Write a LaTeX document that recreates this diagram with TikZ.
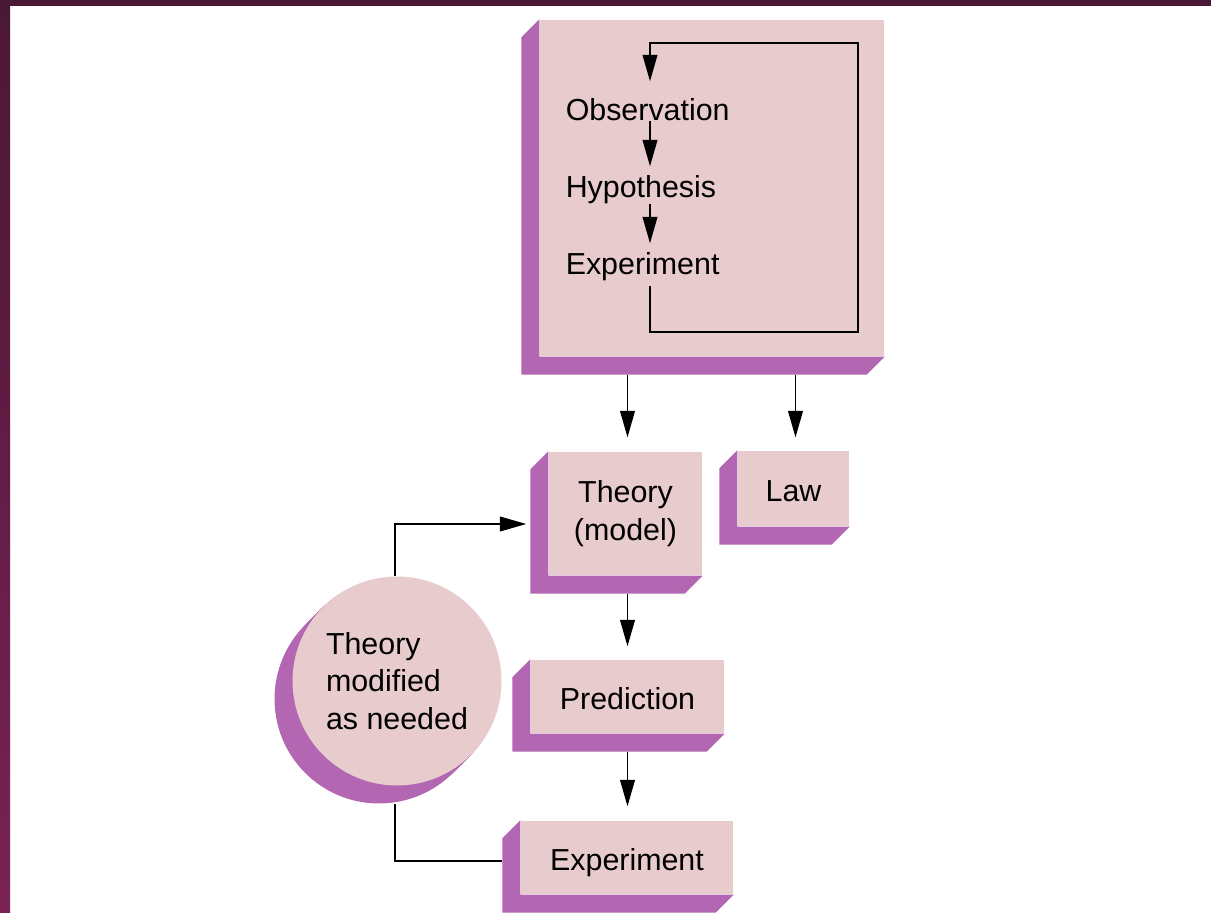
\documentclass[tikz,border=0pt]{standalone}
\usepackage{fontspec}
\setmainfont{Liberation Sans}
\usepackage{xcolor}
\usepackage{tikz}
\usetikzlibrary{
    arrows.meta,
    calc,
    backgrounds
}
\definecolor{face}{RGB}{231,203,205}
\definecolor{side}{RGB}{179,102,178}
\definecolor{frameA}{RGB}{74,24,52}
\definecolor{frameB}{RGB}{122,34,84}

\begin{document}
\begin{tikzpicture}[x=0.02cm,y=-0.02cm,>={Triangle[length=15pt,width=8.4pt]},line width=0.85pt,font=\fontsize{17.3}{21.5}\selectfont]
    \tikzstyle{block}=[fill=face, inner sep=0pt, align=center]
    \tikzstyle{oneline}=[text height=15pt, text depth=0pt]
    \tikzstyle{word}=[inner sep=0pt, anchor=base west]
    \tikzstyle{sidefill}=[fill=side]
    \useasboundingbox (0,0) rectangle (1211,913);

	\node [block, minimum width=6.88cm, minimum height=6.72cm] (big) at (712,188) {};
	\node [word] (obs) at (565,120) {Observation};
	\node [word] (hyp) at (565,197) {Hypothesis};
	\node [word] (exp1) at (565,274) {Experiment};
	\coordinate (lx) at (650,0);
	\coordinate (lb) at (858,332);
	\coordinate (lt) at (858,43);

	\node [block, minimum width=3.06cm, minimum height=2.46cm] (theory) at (625.5,513.5) {Theory\\(model)};
	\node [block, oneline, minimum width=2.22cm, minimum height=1.5cm] (law) at (793.5,488.5) {Law};
	\node [block, oneline, minimum width=3.86cm, minimum height=1.46cm] (pred) at (627.5,696.5) {Prediction};
	\node [block, oneline, minimum width=4.24cm, minimum height=1.46cm] (exp) at (627,857.5) {Experiment};
	\node [block, circle, align=left, minimum size=4.18cm] (circ) at (397,681) {Theory\\modified\\as needed};

	\begin{scope}[on background layer]
	\fill [white] (0,0) rectangle (1211,913);
	\fill [frameA] (0,0) rectangle (1211,6);
	\shade [top color=frameA, bottom color=frameB] (0,0) rectangle (10,913);
	\foreach \i in {1,...,18}
	    \fill [sidefill] ($(circ.center)+(-\i,\i)$) circle [radius=2.09cm];
	\end{scope}
	\foreach \b in {big,theory,law,pred,exp}
	    \fill [sidefill] (\b.north west) -- ++(-18,18) -- ($(\b.south west)+(-18,18)$) -- ($(\b.south east)+(-18,18)$) -- (\b.south east) -- (\b.south west) -- cycle;

	\draw [->, shorten >=0.16cm] (obs.south -| lx) -- (hyp.north -| lx);
	\draw [->, shorten >=0.16cm] (hyp.south -| lx) -- (exp1.north -| lx);
	\draw [->, shorten <=0.1cm, shorten >=0.32cm] (exp1.south -| lx) |- (lb) -- (lt) -| (obs.north -| lx);

	\draw [->, shorten <=0.36cm, shorten >=0.28cm] (big.south -| pred) -- (theory.north -| pred);
	\draw [->, shorten <=0.36cm, shorten >=0.26cm] ([xshift=0.04cm]big.south -| law) -- ([xshift=0.04cm]law.north);
	\draw [->, shorten <=0.36cm, shorten >=0.26cm] (theory.south -| pred) -- (pred.north);
	\draw [->, shorten <=0.36cm, shorten >=0.28cm] (pred.south) -- (exp.north -| pred);

	\draw [->, shorten >=0.44cm] ([xshift=-0.04cm]circ.north) |- ([yshift=-0.21cm]theory.west);
	\draw ([xshift=-0.04cm, yshift=-0.36cm]circ.south) |- ([xshift=-0.36cm, yshift=-0.07cm]exp.west);
\end{tikzpicture}
\end{document}
